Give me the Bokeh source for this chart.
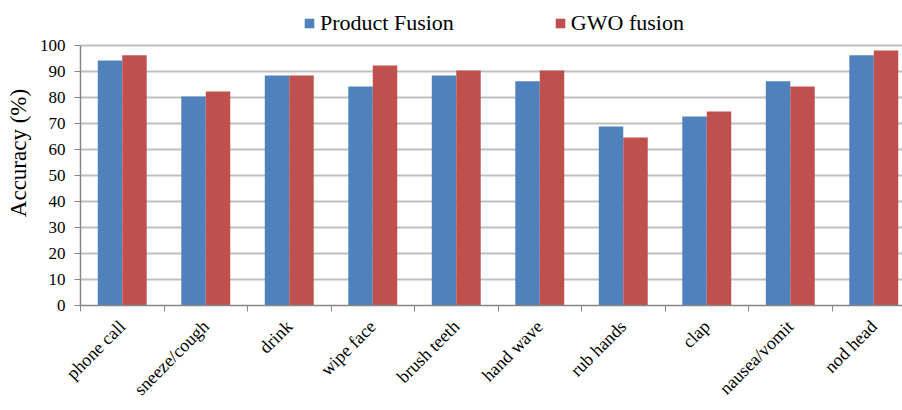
import math
from bokeh.plotting import figure
from bokeh.models import (Range1d, FixedTicker, Legend, LegendItem)
from bokeh.embed import file_html
from bokeh.resources import INLINE

categories = ["phone call", "sneeze/cough", "drink", "wipe face", "brush teeth",
              "hand wave", "rub hands", "clap", "nausea/vomit", "nod head"]
product_fusion = [94.2, 80.4, 88.5, 84.2, 88.5, 86.2, 68.8, 72.7, 86.2, 96.2]
gwo_fusion = [96.2, 82.3, 88.5, 92.3, 90.4, 90.4, 64.6, 74.6, 84.2, 98.1]
y_ticks = [0, 10, 20, 30, 40, 50, 60, 70, 80, 90, 100]

BLUE = "#4F81BD"
RED = "#C0504D"
FONT = "Liberation Serif"

n = len(categories)
centers = list(range(n))
bar_w = 0.293
blue_x = [c - bar_w / 2 for c in centers]
red_x = [c + bar_w / 2 for c in centers]

# frame spans the full top so the legend (drawn in the frame) stays visible
p = figure(width=902, height=410, output_backend="svg", toolbar_location=None,
           x_range=Range1d(-0.5, 9.344), y_range=Range1d(0, 117.3),
           min_border_left=80, min_border_right=0, min_border_top=0,
           min_border_bottom=105)
p.outline_line_color = None
p.background_fill_color = "white"
p.border_fill_color = "white"

r1 = p.vbar(x=blue_x, top=product_fusion, width=bar_w, bottom=0,
            fill_color=BLUE, line_color=None)
r2 = p.vbar(x=red_x, top=gwo_fusion, width=bar_w, bottom=0,
            fill_color=RED, line_color=None)

# grid
p.xgrid.grid_line_color = None
p.ygrid.grid_line_color = "#BFBFBF"
p.ygrid.grid_line_width = 2
p.ygrid.ticker = FixedTicker(ticks=y_ticks)

# y axis
ya = p.yaxis[0]
ya.ticker = FixedTicker(ticks=y_ticks)
ya.bounds = (0, 100)
ya.axis_label = "Accuracy (%)"
ya.axis_label_text_font = FONT
ya.axis_label_text_font_size = "23px"
ya.axis_label_text_font_style = "normal"
ya.axis_label_text_color = "black"
ya.axis_label_standoff = 6
ya.major_label_text_font = FONT
ya.major_label_text_font_size = "17px"
ya.major_label_text_color = "black"
ya.major_label_standoff = 9
ya.axis_line_color = "#868686"
ya.axis_line_width = 1.5
ya.major_tick_line_color = "#868686"
ya.major_tick_out = 6
ya.major_tick_in = 0
ya.minor_tick_line_color = None

# x axis
xa = p.xaxis[0]
xa.ticker = FixedTicker(ticks=centers, minor_ticks=[c - 0.5 for c in centers] + [n - 0.5])
xa.major_label_overrides = {c: lab for c, lab in zip(centers, categories)}
xa.major_label_orientation = math.pi / 4
xa.major_label_text_font = FONT
xa.major_label_text_font_size = "18px"
xa.major_label_text_color = "black"
xa.major_label_standoff = 12
xa.axis_line_color = "#868686"
xa.axis_line_width = 1.5
xa.major_tick_line_color = None
xa.minor_tick_line_color = "#868686"
xa.minor_tick_out = 6
xa.minor_tick_in = 0

legend = Legend(items=[LegendItem(label="Product Fusion", renderers=[r1]),
                       LegendItem(label="GWO fusion", renderers=[r2])],
                orientation="horizontal", location=(223, 269),
                label_text_font=FONT, label_text_font_size="22px",
                label_text_color="black", glyph_width=12, glyph_height=12,
                label_standoff=5, spacing=100, padding=0, margin=0,
                border_line_color=None, background_fill_alpha=0)
p.add_layout(legend, "center")

open("out.html", "w").write(file_html(p, INLINE))
